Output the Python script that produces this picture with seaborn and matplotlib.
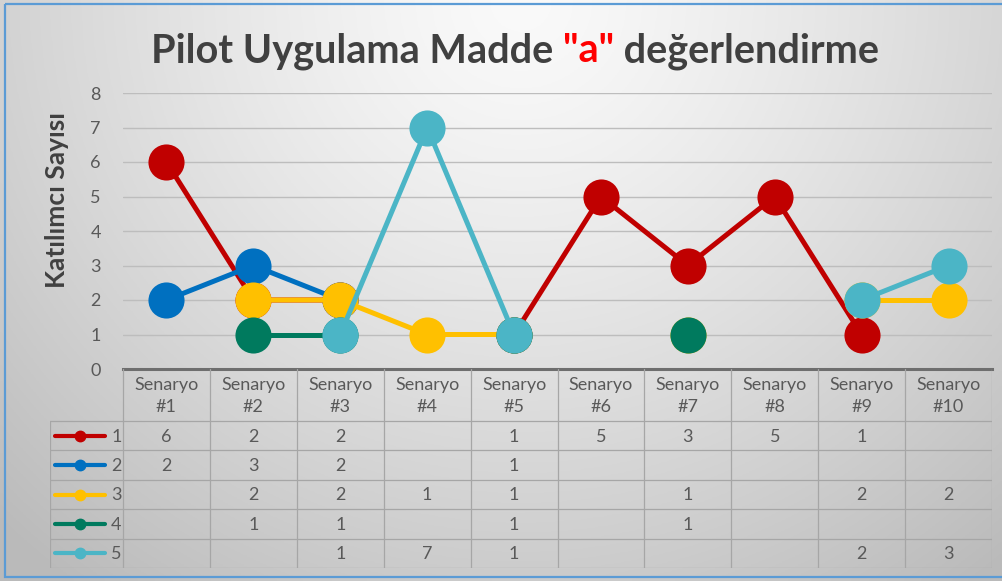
import numpy as np
import pandas as pd
import matplotlib

matplotlib.use("Agg")
import matplotlib.pyplot as plt
import seaborn as sns
from matplotlib.patches import Rectangle
from matplotlib.lines import Line2D

nan = np.nan

# data
scenario_labels = [f"Senaryo\n#{i}" for i in range(1, 11)]
series_names = ["1", "2", "3", "4", "5"]
series_1 = [6, 2, 2, nan, 1, 5, 3, 5, 1, nan]
series_2 = [2, 3, 2, nan, 1, nan, nan, nan, nan, nan]
series_3 = [nan, 2, 2, 1, 1, nan, 1, nan, 2, 2]
series_4 = [nan, 1, 1, nan, 1, nan, 1, nan, nan, nan]
series_5 = [nan, nan, 1, 7, 1, nan, nan, nan, 2, 3]
all_series = [series_1, series_2, series_3, series_4, series_5]
colors = ["#C00000", "#0070C0", "#FFC000", "#007A5E", "#4BB5C6"]
y_ticks = [0, 1, 2, 3, 4, 5, 6, 7, 8]

W, H = 1002, 581
TEXT = "#595959"
TITLE = "#404040"
GRIDC = "#a6a6a6"

sns.set_theme(style="white")
plt.rcParams["font.family"] = ["Lato", "DejaVu Sans"]

fig = plt.figure(figsize=(W / 100, H / 100), dpi=100)

# gradient background
bg = fig.add_axes([0, 0, 1, 1], zorder=-10)
gx, gy = np.meshgrid(np.linspace(0, 1, 300), np.linspace(0, 1, 200))
d = np.sqrt(((gx - 0.52) / 0.62) ** 2 + (gy / 1.05) ** 2)
v = (250 - 50 * np.clip(d, 0, 1.2) ** 1.3) / 255
bg.imshow(np.dstack([v, v, v]), aspect="auto", extent=[0, 1, 1, 0])
bg.set_xlim(0, 1)
bg.set_ylim(1, 0)
bg.axis("off")
bg.add_patch(Rectangle((5 / W, 4 / H), 1.2, 573 / H, fill=False,
                       edgecolor="#5B9BD5", lw=1.6))

# main plot area
left, right, top, zero = 123, 992, 93, 369
ax = fig.add_axes([left / W, 1 - zero / H, (right - left) / W, (zero - top) / H])
ax.patch.set_alpha(0)
x_idx = np.arange(len(scenario_labels))
for name, vals, c in zip(series_names, all_series, colors):
    df = pd.DataFrame({"x": x_idx, "y": vals})
    df["seg"] = df["y"].isna().cumsum()
    df = df.dropna()
    sns.lineplot(data=df, x="x", y="y", units="seg", estimator=None, color=c,
                 lw=3.6, marker="o", markersize=26, markeredgewidth=0,
                 legend=False, ax=ax, clip_on=False)

ax.set_xlim(-0.5, 9.5)
ax.set_ylim(0, 8)
ax.set_yticks(y_ticks)
ax.set_xticks([])
ax.set_xlabel("")
ax.set_ylabel("")
ax.grid(axis="y", color="#bdbdbd", lw=1.0)
ax.set_axisbelow(True)
ax.tick_params(axis="y", length=0, pad=16, labelsize=13, labelcolor=TEXT)
for s in ["left", "right", "top"]:
    ax.spines[s].set_visible(False)
ax.spines["bottom"].set_color("#6e6e6e")
ax.spines["bottom"].set_linewidth(2.2)
ax.spines["bottom"].set_zorder(5)

# data table under the plot
col_w = (right - left) / 10
leg_left = 50
tbl_bottom = 568
tax = fig.add_axes([leg_left / W, 1 - tbl_bottom / H, (right - leg_left) / W, (tbl_bottom - zero) / H])
tax.patch.set_alpha(0)
x0 = -0.5 - (left - leg_left) / col_w
tax.set_xlim(x0, 9.5)
th = tbl_bottom - zero
tax.set_ylim(th, 0)
tax.axis("off")
header_h = 52
row_h = (th - header_h) / len(series_names)

for i in range(11):
    tax.plot([i - 0.5, i - 0.5], [0, th], color=GRIDC, lw=0.9)
tax.plot([x0, x0], [header_h, th], color=GRIDC, lw=0.9)
for k in range(len(series_names) + 1):
    yy = header_h + k * row_h
    tax.plot([x0, 9.5], [yy, yy], color=GRIDC, lw=0.9)

for i, lab in enumerate(scenario_labels):
    tax.text(i, header_h / 2 + 1, lab, ha="center", va="center", fontsize=13,
             color=TEXT, linespacing=1.45)

for k, (name, vals, c) in enumerate(zip(series_names, all_series, colors)):
    yc = header_h + (k + 0.5) * row_h
    for i, val in enumerate(vals):
        if not np.isnan(val):
            tax.text(i, yc + 1, f"{int(val)}", ha="center", va="center",
                     fontsize=13, color=TEXT)
    tax.add_line(Line2D([x0 + 0.06, -0.71], [yc, yc], color=c, lw=3.0,
                        solid_capstyle="round"))
    tax.plot([(x0 + 0.06 - 0.71) / 2], [yc], marker="o", color=c, markersize=7.5)
    tax.text(-0.515, yc + 1, name, ha="right", va="center", fontsize=13, color=TEXT)

# y label
fig.text(57 / W, 1 - 200 / H, "Katılımcı Sayısı", rotation=90, ha="center",
         va="center", fontsize=19, fontweight="bold", color=TITLE)

# title in three pieces, "a" in red
pieces = ['Pilot Uygulama Madde ', '"a"', ' değerlendirme']
piece_colors = [TITLE, "#FF0000", TITLE]
ty = 1 - 62 / H
texts = [fig.text(0, ty, p, fontsize=28.5, fontweight="bold", color=c, va="baseline")
         for p, c in zip(pieces, piece_colors)]
fig.canvas.draw()
r = fig.canvas.get_renderer()
widths = [t.get_window_extent(r).width for t in texts]
xpos = 515 - sum(widths) / 2
for t, w in zip(texts, widths):
    t.set_x(xpos / W)
    xpos += w

fig.savefig("out.png", dpi=100)
